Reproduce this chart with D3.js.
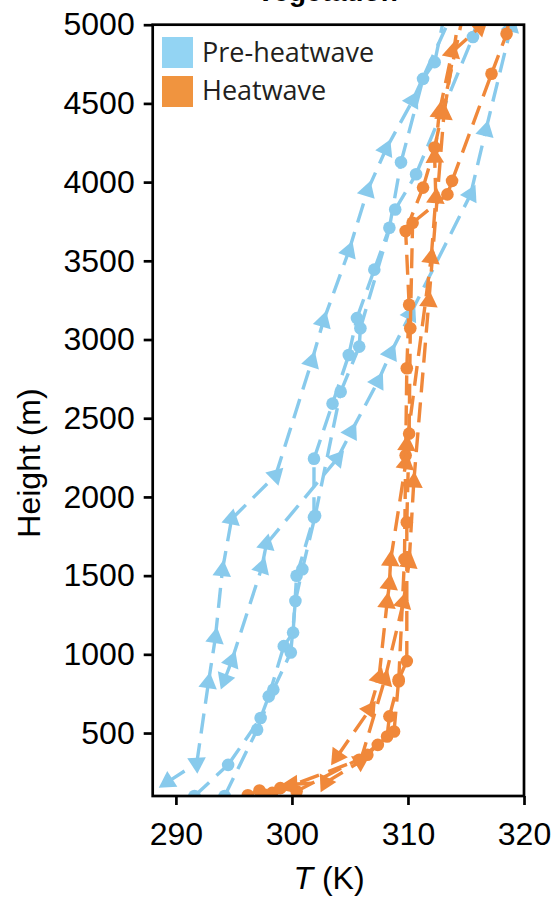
<!DOCTYPE html>
<html>
<head>
<meta charset="utf-8">
<script src="https://cdn.jsdelivr.net/npm/d3@7"></script>
<style>
  html, body { margin: 0; padding: 0; background: #fff; }
  svg { display: block; }
</style>
</head>
<body>
<svg id="chart" width="552" height="897"></svg>
<script>
// Temperature profiles: [T (K), height (m)], listed from the ground upward.
const preCircA = [[291.6,100],[294.5,298],[297.3,596],[298.0,733],[299.3,1052],[300.1,1138],[300.4,1499],[301.9,1871],[301.9,2243],[303.5,2593],[304.9,2902],[305.6,3136],[307.1,3444],[308.4,3710],[309.4,4126],[311.3,4656],[312.3,4762],[313.4,5150]];
const preCircB = [[294.2,100],[297.0,521],[298.4,776],[299.9,1012],[300.3,1339],[300.9,1541],[302.0,1880],[304.2,2668],[305.8,2955],[305.9,3072],[308.9,3826],[310.7,4050],[315.6,4922],[316.4,5150]];
const preTriA  = [[289.3,190],[291.8,309],[292.8,819],[293.4,1106],[294.0,1531],[294.8,1860],[298.6,2137],[301.7,2860],[302.7,3115],[304.9,3561],[306.5,3944],[308.1,4209],[310.4,4518],[314.3,5150]];
const preTriB  = [[294.2,840],[294.8,957],[297.4,1552],[297.8,1701],[303.9,2243],[305.1,2413],[307.4,2732],[308.5,2913],[310.2,3160],[315.4,3922],[316.7,4327],[318.9,4990]];

const heatCircA = [[296.2,105],[297.2,135],[298.3,120],[305.8,330],[308.2,478],[308.4,606],[309.2,829],[309.7,1605],[309.8,2264],[309.9,2817],[310.1,3221],[309.8,3689],[311.3,3965],[312.3,4220],[315.0,5150]];
const heatCircB = [[297.6,110],[299.0,150],[300.4,130],[306.5,362],[307.4,425],[308.8,510],[309.2,840],[309.9,957],[309.9,1839],[310.1,2402],[310.2,3072],[310.4,3742],[313.4,3922],[313.8,4008],[317.2,4688],[318.5,4942],[319.0,5150]];
const heatTriA  = [[303.9,351],[306.7,649],[307.5,851],[308.2,1329],[308.4,1446],[308.5,1595],[309.8,2211],[309.9,2328],[312.0,3518],[312.4,3900],[312.3,4157],[312.7,4443],[313.8,4826],[316.2,4985],[316.6,5150]];
const heatTriB  = [[300.0,175],[302.9,185],[305.9,319],[308.0,840],[309.6,1329],[310.1,1584],[310.5,2094],[311.8,3242],[313.1,4432],[314.6,5150]];

const xTicks = [290, 300, 310, 320];
const yTicks = [500, 1000, 1500, 2000, 2500, 3000, 3500, 4000, 4500, 5000];
const legendLabels = ["Pre-heatwave", "Heatwave"];

const colors = { pre: "#88caec", heat: "#f0883a" };
const legendColors = ["#93d4f3", "#f0943f"];

const series = [
  { data: preCircA, group: "pre", marker: "circle" },
  { data: preCircB, group: "pre", marker: "circle" },
  { data: preTriA, group: "pre", marker: "triangle" },
  { data: preTriB, group: "pre", marker: "triangle" },
  { data: heatCircA, group: "heat", marker: "circle" },
  { data: heatCircB, group: "heat", marker: "circle" },
  { data: heatTriA, group: "heat", marker: "triangle" },
  { data: heatTriB, group: "heat", marker: "triangle" }
];

const svg = d3.select("#chart");
const pLeft = 152.7, pRight = 524, pTop = 24.7, pBottom = 796;

const x = d3.scaleLinear().domain([288, 320]).range([pLeft, pRight]);
const y = d3.scaleLinear().domain([100, 5000]).range([pBottom, pTop]);

// Panel title, sitting at the very top edge
svg.append("text")
  .attr("x", 327).attr("y", 1)
  .attr("text-anchor", "middle")
  .attr("font-family", "Liberation Sans, Arial, sans-serif")
  .attr("font-weight", "bold")
  .attr("font-size", 28)
  .text("Vegetation");

svg.append("clipPath").attr("id", "plotClip")
  .append("rect")
  .attr("x", pLeft).attr("y", pTop)
  .attr("width", pRight - pLeft).attr("height", pBottom - pTop);

const plot = svg.append("g").attr("clip-path", "url(#plotClip)");

series.forEach(s => {
  const g = plot.append("g");
  const color = colors[s.group];
  const pts = s.data.map(d => [x(d[0]), y(d[1])]);
  // each segment restarts its dash pattern at the lower point
  for (let i = 1; i < pts.length; i++) {
    g.append("line")
      .attr("x1", pts[i-1][0]).attr("y1", pts[i-1][1])
      .attr("x2", pts[i][0]).attr("y2", pts[i][1])
      .attr("stroke", color)
      .attr("stroke-width", 3.4)
      .attr("stroke-dasharray", "20,10");
  }
  pts.forEach((p, i) => {
    if (s.marker === "circle") {
      g.append("circle").attr("cx", p[0]).attr("cy", p[1]).attr("r", 6.3).attr("fill", color);
    } else {
      let ang;
      if (i > 0) ang = Math.atan2(p[1] - pts[i-1][1], p[0] - pts[i-1][0]);
      else ang = Math.atan2(p[1] - pts[1][1], p[0] - pts[1][0]);
      const deg = ang * 180 / Math.PI + 90;
      g.append("path")
        .attr("d", d3.symbol(d3.symbolTriangle, 150)())
        .attr("transform", `translate(${p[0]},${p[1]}) rotate(${deg})`)
        .attr("fill", color);
    }
  });
});

// Axes
const fontAxis = "Liberation Sans, Arial, Helvetica, sans-serif";
const yAxis = svg.append("g")
  .attr("transform", `translate(${pLeft},0)`)
  .call(d3.axisLeft(y).tickValues(yTicks).tickSize(9).tickPadding(9).tickFormat(d3.format("d")));
const xAxis = svg.append("g")
  .attr("transform", `translate(0,${pBottom})`)
  .call(d3.axisBottom(x).tickValues(xTicks).tickSize(9).tickPadding(17));
[yAxis, xAxis].forEach(a => {
  a.select(".domain").remove();
  a.selectAll(".tick line").attr("stroke", "#000").attr("stroke-width", 2.7);
  a.selectAll(".tick text").attr("font-family", fontAxis).attr("font-size", 32).attr("fill", "#000");
});

// Frame
svg.append("rect")
  .attr("x", pLeft).attr("y", pTop)
  .attr("width", pRight - pLeft).attr("height", pBottom - pTop)
  .attr("fill", "none").attr("stroke", "#000").attr("stroke-width", 2.7);

// Axis titles
const xt = svg.append("text")
  .attr("x", 329).attr("y", 889)
  .attr("text-anchor", "middle")
  .attr("font-family", fontAxis).attr("font-size", 32);
xt.append("tspan").attr("font-style", "italic").text("T");
xt.append("tspan").text(" (K)");

svg.append("text")
  .attr("transform", "translate(40,463) rotate(-90)")
  .attr("text-anchor", "middle")
  .attr("font-family", fontAxis).attr("font-size", 32)
  .text("Height (m)");

// Legend
const legend = svg.append("g");
legendLabels.forEach((lab, i) => {
  legend.append("rect")
    .attr("x", 162).attr("y", 37 + i * 39)
    .attr("width", 31).attr("height", 31)
    .attr("fill", legendColors[i]);
  legend.append("text")
    .attr("x", 202).attr("y", 62 + i * 38)
    .attr("font-family", "Open Sans, sans-serif")
    .attr("font-size", 27)
    .attr("fill", "#231f20")
    .text(lab);
});
</script>
</body>
</html>
